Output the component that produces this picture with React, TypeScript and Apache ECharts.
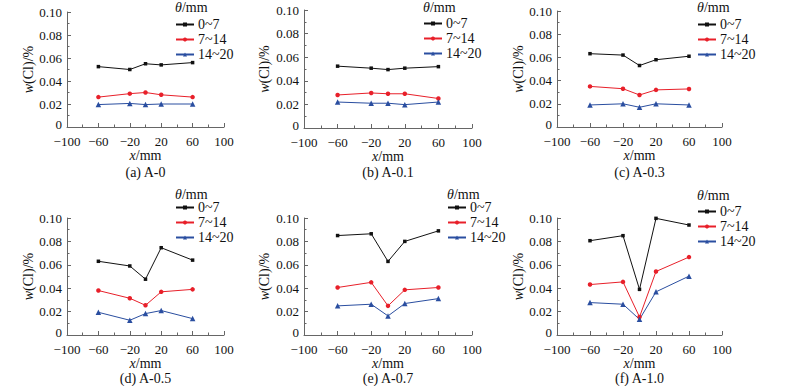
import React, { useEffect, useRef } from "react";
import * as echarts from "echarts";

// ---- Data ----
const xPositions = [-60, -20, 0, 20, 60];
const seriesNames = ["0~7", "7~14", "14~20"];
const captions = ["(a) A-0", "(b) A-0.1", "(c) A-0.3", "(d) A-0.5", "(e) A-0.7", "(f) A-1.0"];
const xTicks = [-100, -60, -20, 20, 60, 100];
const yTicks = [0, 0.02, 0.04, 0.06, 0.08, 0.1];

const panelA = [
  [0.0525, 0.050, 0.055, 0.054, 0.056],
  [0.026, 0.029, 0.030, 0.028, 0.026],
  [0.0195, 0.0205, 0.0195, 0.020, 0.020],
];
const panelB = [
  [0.0524, 0.0507, 0.0495, 0.0507, 0.052],
  [0.028, 0.0297, 0.029, 0.029, 0.025],
  [0.022, 0.021, 0.021, 0.0198, 0.022],
];
const panelC = [
  [0.0632, 0.062, 0.053, 0.058, 0.061],
  [0.035, 0.033, 0.0276, 0.032, 0.0328],
  [0.019, 0.020, 0.017, 0.020, 0.019],
];
const panelD = [
  [0.063, 0.059, 0.0477, 0.0746, 0.064],
  [0.038, 0.0314, 0.0254, 0.0369, 0.039],
  [0.0194, 0.0126, 0.0183, 0.0209, 0.014],
];
const panelE = [
  [0.085, 0.0865, 0.0629, 0.080, 0.089],
  [0.0406, 0.045, 0.0249, 0.0386, 0.0406],
  [0.0249, 0.0263, 0.0163, 0.0269, 0.0311],
];
const panelF = [
  [0.0806, 0.0849, 0.039, 0.0997, 0.094],
  [0.0431, 0.0454, 0.0154, 0.0543, 0.0666],
  [0.0277, 0.0263, 0.0134, 0.0369, 0.0503],
];
const panels = [panelA, panelB, panelC, panelD, panelE, panelF];

// ---- Layout / style ----
const FONT = '"Liberation Serif", "Times New Roman", serif';
const grids = [
  { left: 67, top: 12, width: 157, height: 115, yGap: 32, legX: 175, legY: 17, titleY: 7, capY: 172 },
  { left: 304, top: 10, width: 168, height: 118, yGap: 33, legX: 423, legY: 16, titleY: 7, capY: 172 },
  { left: 557, top: 11, width: 165, height: 116, yGap: 30, legX: 697, legY: 17, titleY: 7, capY: 172 },
  { left: 67, top: 218, width: 157, height: 117, yGap: 32, legX: 175, legY: 200, titleY: 194, capY: 378 },
  { left: 304, top: 218, width: 168, height: 117, yGap: 33, legX: 447, legY: 200, titleY: 194, capY: 378 },
  { left: 557, top: 218, width: 165, height: 117, yGap: 29, legX: 697, legY: 204, titleY: 195, capY: 378 },
];
const colors = ["#111111", "#e8202a", "#2a4ea0"];
const symbols = ["rect", "circle", "triangle"];
const symbolSizes = [3.5, 4.5, 5.5];
const AXIS_COLOR = "#666666";

function fmtX(v: number) {
  return v < 0 ? "\u2212" + Math.abs(v) : String(v);
}
function fmtY(v: number) {
  return v === 0 ? "{z|0}" : v.toFixed(2);
}

export default function App() {
  const ref = useRef<HTMLDivElement>(null);
  useEffect(() => {
    if (!ref.current) return;
    const chart = echarts.init(ref.current, undefined, { renderer: "svg" });

    const gridOpts = grids.map((g) => ({ left: g.left, top: g.top, width: g.width, height: g.height, containLabel: false }));

    const nameStyle = {
      fontFamily: FONT,
      fontSize: 14,
      color: "#111",
      rich: { i: { fontStyle: "italic", fontFamily: FONT, fontSize: 14, color: "#111" } },
    };

    const xAxes = grids.map((g, idx) => ({
      type: "value",
      gridIndex: idx,
      min: xTicks[0],
      max: xTicks[xTicks.length - 1],
      interval: xTicks[1] - xTicks[0],
      name: "{i|x}/mm",
      nameLocation: "middle",
      nameGap: 20,
      nameTextStyle: nameStyle,
      axisLine: { show: true, onZero: false, lineStyle: { color: AXIS_COLOR, width: 1 } },
      axisTick: { show: true, inside: true, length: 4, lineStyle: { color: AXIS_COLOR } },
      minorTick: { show: true, splitNumber: 2, length: 2.5, lineStyle: { color: AXIS_COLOR } },
      splitLine: { show: false },
      axisLabel: { fontFamily: FONT, fontSize: 13, lineHeight: 12, color: "#111", margin: 8, formatter: fmtX },
    }));

    const yAxes = grids.map((g, idx) => ({
      type: "value",
      gridIndex: idx,
      min: yTicks[0],
      max: yTicks[yTicks.length - 1],
      interval: yTicks[1] - yTicks[0],
      name: "{i|w}(Cl)/%",
      nameLocation: "middle",
      nameGap: g.yGap,
      nameRotate: 90,
      nameTextStyle: nameStyle,
      axisLine: { show: true, onZero: false, lineStyle: { color: AXIS_COLOR, width: 1 } },
      axisTick: { show: true, inside: true, length: 4, lineStyle: { color: AXIS_COLOR } },
      minorTick: { show: true, splitNumber: 2, length: 2.5, lineStyle: { color: AXIS_COLOR } },
      splitLine: { show: false },
      axisLabel: {
        fontFamily: FONT,
        fontSize: 13,
        lineHeight: 12,
        color: "#111",
        margin: 5,
        formatter: fmtY,
        rich: { z: { fontFamily: FONT, fontSize: 13, color: "#111", padding: [0, 0, 5, 0] } },
      },
    }));

    const series: any[] = [];
    panels.forEach((panel, p) => {
      panel.forEach((vals, s) => {
        series.push({
          type: "line",
          name: seriesNames[s],
          xAxisIndex: p,
          yAxisIndex: p,
          data: xPositions.map((x, i) => [x, vals[i]]),
          symbol: symbols[s],
          symbolSize: symbolSizes[s],
          lineStyle: { color: colors[s], width: 1 },
          itemStyle: { color: colors[s] },
          emphasis: { disabled: true },
        });
      });
    });

    const legends = grids.map((g) => ({
      orient: "vertical",
      left: g.legX,
      top: g.legY,
      padding: 0,
      itemWidth: 18,
      itemHeight: 5,
      itemGap: 0,
      selectedMode: false,
      textStyle: { fontFamily: FONT, fontSize: 14, color: "#111", padding: [0, 0, 0, -1], lineHeight: 15 },
      data: seriesNames,
    }));

    const graphics: any[] = [];
    grids.forEach((g, idx) => {
      graphics.push({
        type: "text",
        left: g.legX,
        top: g.titleY - 7,
        style: {
          text: "{i|θ}/mm",
          font: `14px ${FONT}`,
          fill: "#111",
          rich: { i: { fontStyle: "italic", fontFamily: FONT, fontSize: 14, fill: "#111" } },
        },
      });
      graphics.push({
        type: "text",
        x: g.left + g.width / 2,
        y: g.capY,
        style: {
          text: captions[idx],
          font: `14px ${FONT}`,
          fill: "#111",
          align: "center",
          verticalAlign: "middle",
        },
      });
    });

    chart.setOption({
      animation: false,
      backgroundColor: "#ffffff",
      grid: gridOpts,
      xAxis: xAxes,
      yAxis: yAxes,
      legend: legends,
      series,
      graphic: graphics,
    } as any);

    return () => chart.dispose();
  }, []);

  return <div ref={ref} style={{ position: "absolute", left: 0, top: 0, width: 800, height: 386 }} />;
}
